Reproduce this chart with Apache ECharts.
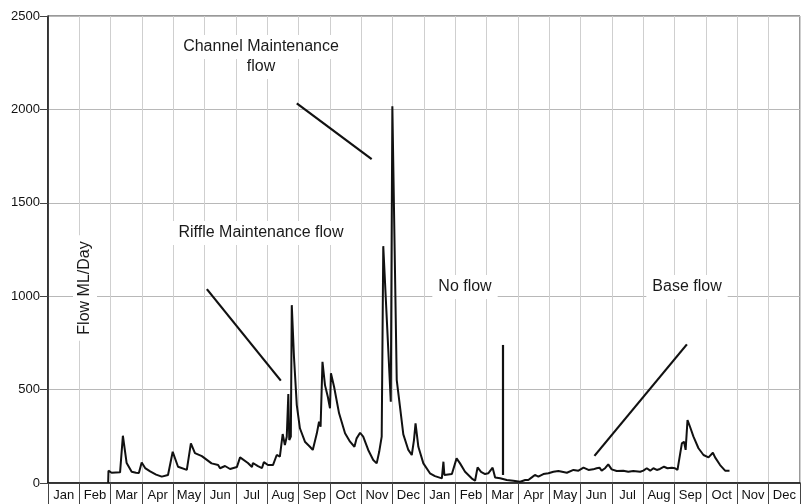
<!DOCTYPE html>
<html>
<head>
<meta charset="utf-8">
<script src="https://cdn.jsdelivr.net/npm/echarts@6/dist/echarts.min.js"></script>
<style>
html,body{margin:0;padding:0;background:#fff;}
#chart{width:809px;height:504px;}
</style>
</head>
<body>
<div id="chart"></div>
<script>
// Month tick labels (two years)
var months = ['Jan','Feb','Mar','Apr','May','Jun','Jul','Aug','Sep','Oct','Nov','Dec',
              'Jan','Feb','Mar','Apr','May','Jun','Jul','Aug','Sep','Oct','Nov','Dec'];
// y ticks
var yTicks = [0, 500, 1000, 1500, 2000, 2500];

// Flow series: time in months from start of first January, flow in ML/Day
var flowX = [1.92,1.93,2.03,2.30,2.39,2.51,2.67,2.81,2.90,2.99,3.10,3.26,3.45,3.63,3.83,3.98,4.15,4.43,4.56,4.69,4.91,4.95,
  5.22,5.43,5.49,5.65,5.81,6.03,6.13,6.38,6.51,6.54,6.70,6.83,6.89,6.93,7.02,7.18,7.30,7.40,7.49,7.56,7.62,7.67,7.70,7.75,
  7.78,7.85,7.94,8.04,8.20,8.36,8.45,8.58,8.65,8.70,8.76,8.84,8.93,9.00,9.03,9.13,9.29,9.48,9.64,9.78,9.85,9.96,10.06,10.22,
  10.38,10.49,10.57,10.65,10.70,10.94,10.99,11.13,11.24,11.34,11.50,11.61,11.68,11.73,11.82,11.98,12.19,12.35,12.57,12.62,
  12.65,12.89,12.94,13.04,13.15,13.31,13.52,13.63,13.71,13.82,13.95,14.05,14.19,14.27,14.43,14.64,14.85,15.07,15.23,15.33,
  15.44,15.54,15.65,15.81,15.97,16.13,16.29,16.34,16.56,16.77,16.93,17.09,17.25,17.40,17.51,17.60,17.67,17.78,17.88,17.99,
  18.15,18.36,18.52,18.68,18.90,19.00,19.11,19.22,19.32,19.43,19.53,19.66,19.77,19.91,20.01,20.09,20.15,20.23,20.30,20.35,
  20.41,20.49,20.60,20.76,20.92,21.08,21.22,21.29,21.45,21.61,21.75];
var flowY = [0,66,55,57,253,107,60,55,53,110,80,62,45,34,43,167,87,70,212,160,144,150,
  105,96,79,91,75,86,137,107,86,107,90,80,112,119,96,96,150,141,262,203,248,476,230,248,
  952,676,417,293,221,194,177,266,328,301,649,524,462,400,587,515,373,266,221,194,239,269,248,177,
  123,105,167,248,1268,435,2017,551,400,260,177,150,230,319,194,105,52,37,25,114,
  43,48,43,132,105,60,25,12,84,60,48,52,82,30,25,16,12,7,16,16,
  30,43,34,48,52,60,64,64,55,70,66,82,70,73,79,82,66,79,100,73,
  64,66,60,64,60,66,79,66,79,70,75,87,79,82,79,70,73,212,221,177,
  337,301,248,186,150,137,162,137,96,66,66];

// Annotation pointer lines in data coordinates [x1, y1, x2, y2]
var pointerChannel = [7.94, 2032, 10.33, 1734];
var pointerRiffle  = [5.07, 1038, 7.43, 548];
var pointerNoFlow  = [14.50, 739, 14.50, 43];
var pointerBase    = [17.44, 145, 20.39, 742];

var flowData = flowX.map(function(x, i){ return [x, flowY[i]]; });
function seg(p){ return [{coord:[p[0], p[1]]},{coord:[p[2], p[3]]}]; }

var FONT = '"Liberation Sans", Arial, sans-serif';
function note(x, y, text, rot){
  var g = {type:'text', x:x, y:y, z:10, style:{text:text, font:'16px '+FONT, fill:'#1a1a1a',
    align:'center', verticalAlign:'middle', backgroundColor:'#fff', padding:[4,6,4,6]}};
  if (rot) g.rotation = rot;
  return g;
}
var chart = echarts.init(document.getElementById('chart'), null, {renderer:'canvas'});
chart.setOption({
  animation: false,
  backgroundColor: '#fff',
  grid: {left: 48, right: 9, top: 16, bottom: 21, show: true, borderColor: '#333', borderWidth: 1},
  xAxis: [{
    type: 'category', data: months, boundaryGap: true, position: 'bottom',
    axisLine: {lineStyle: {color: '#111', width: 1.5}},
    axisTick: {show: true, length: 21, lineStyle: {color: '#444', width: 1}},
    axisLabel: {interval: 0, fontSize: 13, color: '#111', margin: 6, fontFamily: FONT},
    splitLine: {show: true, lineStyle: {color: '#cfcfcf', width: 1}}
  },{
    type: 'value', min: 0, max: 24, show: false
  }],
  yAxis: {
    type: 'value', min: yTicks[0], max: yTicks[yTicks.length-1], interval: 500,
    axisLine: {show: true, lineStyle: {color: '#111', width: 1.5}},
    axisTick: {show: true, length: 8, lineStyle: {color: '#444'}},
    axisLabel: {fontSize: 13, color: '#111', margin: 8, fontFamily: FONT,
      formatter: function(v){ return String(v); }},
    splitLine: {show: true, lineStyle: {color: '#b8b8b8', width: 1}}
  },
  series: [{
    type: 'line', xAxisIndex: 1, data: flowData, showSymbol: false, symbol: 'none',
    lineStyle: {color: '#111', width: 2}, silent: true, z: 5,
    markLine: {
      silent: true, symbol: ['none','none'], animation: false,
      label: {show: false},
      lineStyle: {color: '#111', width: 2.2, type: 'solid'},
      emphasis: {disabled: true},
      data: [seg(pointerChannel), seg(pointerRiffle), seg(pointerNoFlow), seg(pointerBase)]
    }
  }],
  graphic: [
    note(261, 47, 'Channel Maintenance'),
    note(261, 67, 'flow'),
    note(261, 233, 'Riffle Maintenance flow'),
    note(465, 287, 'No flow'),
    note(687, 287, 'Base flow'),
    note(85, 288, 'Flow ML/Day', Math.PI/2)
  ]
});
</script>
</body>
</html>
